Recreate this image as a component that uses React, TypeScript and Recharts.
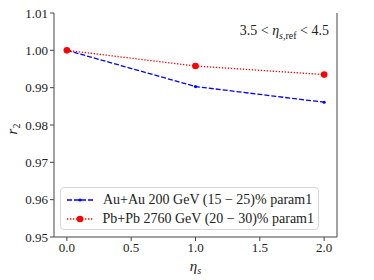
import { LineChart, Line, XAxis, YAxis } from 'recharts';

const etaS = [0, 1, 2];
const auAu = [1.0, 0.9903, 0.9861];
const pbPb = [1.0, 0.9958, 0.9935];
const xTicks = [0, 0.5, 1, 1.5, 2];
const yTicks = [0.95, 0.96, 0.97, 0.98, 0.99, 1.0, 1.01];

const seriesNames = [
  'Au+Au 200 GeV (15 \u2212 25)% param1',
  'Pb+Pb 2760 GeV (20 \u2212 30)% param1',
];

const FONT = '"Liberation Serif", "DejaVu Serif", serif';
const AXIS = '#444';
const TEXT = '#222';

const data = etaS.map((x, i) => ({ x, au: auAu[i], pb: pbPb[i] }));

const tickStyle = { fill: TEXT, fontSize: 13, fontFamily: FONT };

// legenda fuera del chart para que no reste altura al área de trazado
function LegendBox() {
  return (
    <div
      style={{
        position: 'absolute',
        left: 60,
        top: 187,
        boxSizing: 'border-box',
        width: 259,
        height: 43,
        border: '1px solid #d6d6d6',
        borderRadius: 4,
        background: 'rgba(255,255,255,0.8)',
        padding: '2px 4px 0 5px',
        fontFamily: FONT,
        fontSize: 14,
        color: TEXT,
        whiteSpace: 'nowrap',
      }}
    >
      <div style={{ display: 'flex', alignItems: 'center', height: 19 }}>
        <svg width={28} height={10} style={{ marginRight: 9 }}>
          <line x1={1} y1={5} x2={27} y2={5} stroke="#0000ff" strokeWidth={1.3} strokeDasharray="5 2" />
          <circle cx={14} cy={5} r={1.6} fill="#0000ff" />
        </svg>
        <span>{seriesNames[0]}</span>
      </div>
      <div style={{ display: 'flex', alignItems: 'center', height: 19 }}>
        <svg width={28} height={10} style={{ marginRight: 9 }}>
          <line x1={1} y1={5} x2={27} y2={5} stroke="#ff0000" strokeWidth={1.3} strokeDasharray="1.3 1.7" />
          <circle cx={14} cy={5} r={3.3} fill="#ff0000" />
        </svg>
        <span>{seriesNames[1]}</span>
      </div>
    </div>
  );
}

export default function App() {
  return (
    <div style={{ position: 'absolute', left: 0, top: 0, width: 374, height: 280, background: '#fff' }}>
      <LineChart
        width={374}
        height={280}
        data={data}
        margin={{ top: 13, right: 0, bottom: 18, left: 0 }}
      >
        <XAxis
          xAxisId="bottom"
          type="number"
          dataKey="x"
          domain={[-0.1, 2.1]}
          ticks={xTicks}
          tickFormatter={(v: number) => v.toFixed(1)}
          tick={tickStyle}
          stroke={AXIS}
          tickSize={4}
          height={25}
          label={{
            content: (p: any) => {
              const vb = p.viewBox;
              return (
                <text
                  x={vb.x + vb.width / 2}
                  y={vb.y + 34}
                  textAnchor="middle"
                  fontFamily={FONT}
                  fontSize={15}
                  fill={TEXT}
                  fontStyle="italic"
                >
                  η<tspan fontSize={10} dy={3}>s</tspan>
                </text>
              );
            },
          }}
        />
        <XAxis
          xAxisId="top"
          orientation="top"
          type="number"
          dataKey="x"
          domain={[-0.1, 2.1]}
          tick={false}
          tickLine={false}
          stroke={AXIS}
          height={0}
        />
        <YAxis
          yAxisId="left"
          type="number"
          domain={[0.95, 1.01]}
          ticks={yTicks}
          tickFormatter={(v: number) => v.toFixed(2)}
          tick={tickStyle}
          stroke={AXIS}
          tickSize={4}
          width={54}
          label={{
            content: (p: any) => {
              const vb = p.viewBox;
              const cx = 17;
              const cy = vb.y + vb.height / 2 + 4;
              return (
                <text
                  x={cx}
                  y={cy}
                  transform={`rotate(-90 ${cx} ${cy})`}
                  textAnchor="middle"
                  fontFamily={FONT}
                  fontSize={15}
                  fill={TEXT}
                  fontStyle="italic"
                >
                  r<tspan fontSize={10} dy={3} fontStyle="normal">2</tspan>
                </text>
              );
            },
          }}
        />
        <YAxis
          yAxisId="right"
          orientation="right"
          type="number"
          domain={[0.95, 1.01]}
          ticks={yTicks}
          tickFormatter={(v: number) => v.toFixed(2)}
          tick={tickStyle}
          stroke={AXIS}
          tickSize={4}
          width={37}
        />
        <Line
          xAxisId="bottom"
          yAxisId="left"
          dataKey="au"
          name={seriesNames[0]}
          stroke="#0000ff"
          strokeWidth={1.3}
          strokeDasharray="5 2"
          dot={{ r: 1.6, fill: '#0000ff', stroke: 'none' }}
          isAnimationActive={false}
        />
        <Line
          xAxisId="bottom"
          yAxisId="left"
          dataKey="pb"
          name={seriesNames[1]}
          stroke="#ff0000"
          strokeWidth={1.3}
          strokeDasharray="1.3 1.7"
          dot={{ r: 3.3, fill: '#ff0000', stroke: 'none' }}
          isAnimationActive={false}
        />
      </LineChart>
      <LegendBox />
      <div
        style={{
          position: 'absolute',
          right: 45,
          top: 23,
          fontFamily: FONT,
          fontSize: 14,
          color: TEXT,
          whiteSpace: 'nowrap',
        }}
      >
        3.5 &lt; <i>η</i>
        <sub style={{ fontSize: 10 }}>
          <i>s</i>,ref
        </sub>{' '}
        &lt; 4.5
      </div>
    </div>
  );
}
